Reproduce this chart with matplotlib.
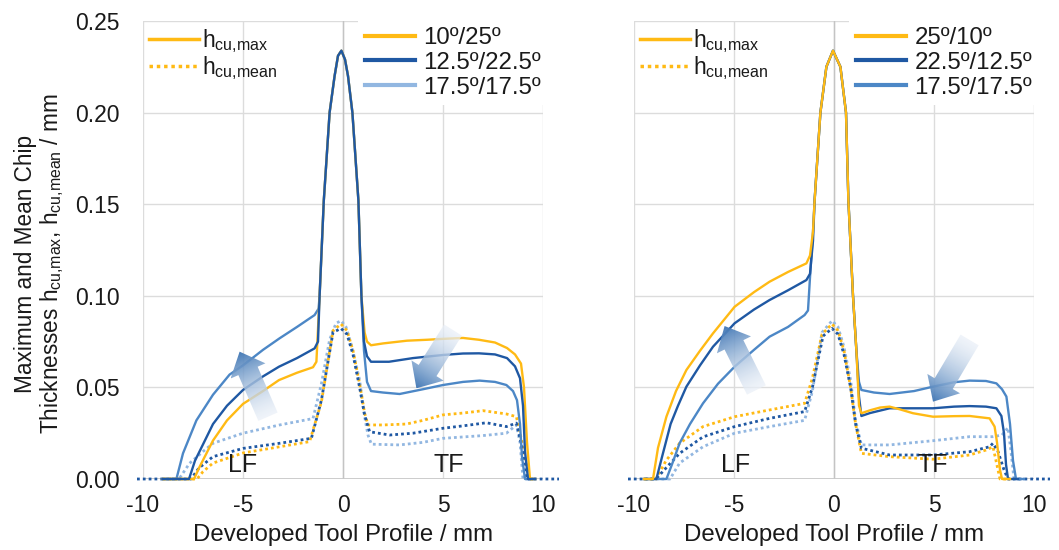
import numpy as np
import matplotlib
matplotlib.use("Agg")
import matplotlib.pyplot as plt
import matplotlib.colors as mcolors
from matplotlib.patches import Polygon
from matplotlib.lines import Line2D

plt.rcParams['font.family'] = ['Liberation Sans', 'DejaVu Sans']
plt.rcParams['mathtext.default'] = 'regular'
plt.rcParams['axes.unicode_minus'] = False

# ---------------- data: left panel (10/25, 12.5/22.5, 17.5/17.5) ----------------
L_yel_max_x = [-9.0, -7.45, -7.2, -6.5, -5.8, -5.0, -4.0, -3.2, -2.3, -1.5, -1.33, -1.17, -0.96, -0.67, -0.42, -0.25, -0.08, 0.10, 0.25, 0.47, 0.77, 0.92, 1.08, 1.2, 1.4, 2.0, 3.2, 4.2, 5.0, 6.0, 6.8, 7.6, 8.2, 8.6, 8.9, 9.05, 9.2, 9.35, 9.6]
L_yel_max_y = [0, 0, 0.006, 0.021, 0.032, 0.041, 0.048, 0.054, 0.058, 0.061, 0.064, 0.100, 0.152, 0.200, 0.220, 0.231, 0.2338, 0.229, 0.220, 0.200, 0.152, 0.100, 0.080, 0.075, 0.073, 0.074, 0.0755, 0.076, 0.0765, 0.077, 0.076, 0.0745, 0.0715, 0.068, 0.063, 0.050, 0.020, 0, 0]
L_dark_max_x = [-9.0, -7.7, -7.4, -6.5, -5.8, -5.0, -4.0, -3.2, -2.3, -1.42, -1.25, -1.17, -0.96, -0.67, -0.42, -0.25, -0.08, 0.10, 0.25, 0.47, 0.77, 0.92, 1.05, 1.2, 1.4, 2.3, 3.5, 5.0, 6.0, 6.8, 7.6, 8.2, 8.6, 8.85, 9.0, 9.1, 9.25, 9.6]
L_dark_max_y = [0, 0, 0.010, 0.030, 0.040, 0.0486, 0.056, 0.0613, 0.066, 0.0713, 0.075, 0.100, 0.152, 0.200, 0.220, 0.231, 0.2338, 0.229, 0.220, 0.200, 0.152, 0.100, 0.075, 0.067, 0.064, 0.064, 0.066, 0.0677, 0.0685, 0.0686, 0.068, 0.066, 0.0615, 0.055, 0.040, 0.015, 0, 0]
L_mid_max_x = [-9.0, -8.33, -8.0, -7.33, -6.5, -5.67, -5.0, -4.0, -3.17, -2.3, -1.42, -1.22, -1.17, -0.96, -0.67, -0.42, -0.25, -0.08, 0.10, 0.25, 0.47, 0.77, 0.92, 1.05, 1.2, 1.4, 2.0, 2.83, 4.0, 5.0, 6.0, 6.83, 7.6, 8.17, 8.5, 8.7, 8.85, 8.95, 9.1, 9.6]
L_mid_max_y = [0, 0, 0.014, 0.032, 0.046, 0.057, 0.062, 0.0705, 0.0768, 0.083, 0.0895, 0.093, 0.100, 0.152, 0.200, 0.220, 0.231, 0.2338, 0.229, 0.220, 0.200, 0.152, 0.100, 0.070, 0.053, 0.048, 0.0472, 0.0464, 0.049, 0.0513, 0.053, 0.0537, 0.053, 0.0513, 0.048, 0.043, 0.030, 0.012, 0, 0]

L_yel_mean_x = [-9.0, -7.3, -7.0, -6.5, -5.0, -3.17, -1.67, -1.08, -0.5, -0.1, 0.2, 0.5, 0.83, 1.08, 1.25, 2.0, 3.17, 4.0, 5.0, 6.0, 7.0, 8.17, 8.67, 8.95, 9.3, 9.6]
L_yel_mean_y = [0, 0, 0.004, 0.0087, 0.0142, 0.0176, 0.0204, 0.042, 0.081, 0.0846, 0.081, 0.070, 0.052, 0.036, 0.0295, 0.0295, 0.030, 0.032, 0.035, 0.036, 0.0373, 0.0355, 0.034, 0.020, 0, 0]
L_dark_mean_x = [-10.3, -7.6, -7.2, -6.5, -5.0, -3.17, -1.58, -1.08, -0.5, -0.1, 0.2, 0.5, 0.83, 1.08, 1.33, 2.33, 3.5, 5.0, 6.0, 7.17, 8.17, 8.67, 8.9, 9.2, 10.8]
L_dark_mean_y = [0, 0, 0.006, 0.0122, 0.0167, 0.0195, 0.0222, 0.043, 0.080, 0.0822, 0.079, 0.068, 0.050, 0.035, 0.0258, 0.024, 0.025, 0.0277, 0.029, 0.0307, 0.0286, 0.0305, 0.020, 0, 0]
L_light_mean_x = [-9.0, -8.2, -7.67, -7.0, -6.5, -5.0, -3.17, -1.5, -1.08, -0.67, -0.35, -0.1, 0.15, 0.45, 0.83, 1.08, 1.25, 1.42, 2.83, 4.0, 5.0, 7.0, 8.17, 8.67, 8.85, 9.0, 9.6]
L_light_mean_y = [0, 0, 0.0086, 0.015, 0.0195, 0.025, 0.0295, 0.033, 0.052, 0.076, 0.085, 0.0864, 0.083, 0.072, 0.054, 0.034, 0.024, 0.019, 0.0186, 0.020, 0.0222, 0.0237, 0.025, 0.0295, 0.020, 0, 0]

# ---------------- data: right panel (25/10, 22.5/12.5, 17.5/17.5) ----------------
R_yel_max_x = [-9.5, -9.05, -8.8, -8.38, -7.9, -7.38, -6.7, -6.05, -4.97, -4.0, -3.22, -2.3, -1.38, -1.2, -1.05, -0.97, -0.68, -0.38, -0.05, 0.32, 0.60, 0.72, 0.95, 1.12, 1.25, 1.37, 1.8, 2.3, 2.78, 3.3, 3.95, 4.95, 6.0, 6.78, 7.78, 8.03, 8.15, 8.3, 8.4, 8.8]
R_yel_max_y = [0, 0, 0.017, 0.034, 0.048, 0.0595, 0.070, 0.0795, 0.094, 0.102, 0.1077, 0.113, 0.1177, 0.122, 0.135, 0.152, 0.200, 0.225, 0.2338, 0.225, 0.200, 0.152, 0.100, 0.070, 0.040, 0.0359, 0.0375, 0.039, 0.0395, 0.038, 0.0359, 0.034, 0.0343, 0.0344, 0.0331, 0.0286, 0.020, 0.005, 0, 0]
R_dark_max_x = [-9.5, -8.88, -8.6, -8.17, -7.8, -7.38, -6.7, -6.05, -4.97, -4.0, -3.22, -2.3, -1.38, -1.2, -1.05, -0.97, -0.68, -0.38, -0.05, 0.32, 0.60, 0.72, 0.95, 1.12, 1.25, 1.37, 1.8, 2.78, 3.9, 4.95, 6.0, 6.78, 7.6, 8.12, 8.37, 8.5, 8.6, 8.7, 9.2]
R_dark_max_y = [0, 0, 0.012, 0.030, 0.040, 0.0504, 0.062, 0.0722, 0.085, 0.0925, 0.0977, 0.103, 0.1086, 0.112, 0.130, 0.152, 0.200, 0.225, 0.2338, 0.225, 0.200, 0.152, 0.100, 0.070, 0.045, 0.0344, 0.036, 0.0386, 0.0386, 0.0386, 0.0395, 0.0398, 0.0395, 0.0386, 0.0344, 0.025, 0.008, 0, 0]
R_mid_max_x = [-9.5, -8.38, -8.1, -7.72, -7.2, -6.55, -5.8, -4.97, -4.0, -3.22, -2.3, -1.47, -1.3, -1.2, -1.05, -0.97, -0.68, -0.38, -0.05, 0.32, 0.60, 0.72, 0.95, 1.12, 1.25, 1.37, 2.0, 2.78, 4.0, 4.95, 6.0, 6.78, 7.6, 8.12, 8.4, 8.62, 8.8, 8.95, 9.1, 9.5]
R_mid_max_y = [0, 0, 0.008, 0.0195, 0.030, 0.0413, 0.052, 0.0613, 0.0705, 0.0777, 0.083, 0.0895, 0.092, 0.110, 0.135, 0.152, 0.200, 0.225, 0.2338, 0.225, 0.200, 0.152, 0.100, 0.070, 0.053, 0.0486, 0.0472, 0.0464, 0.048, 0.0504, 0.0528, 0.0537, 0.0535, 0.0522, 0.049, 0.045, 0.030, 0.010, 0, 0]

R_yel_mean_x = [-9.5, -8.9, -8.4, -7.72, -6.55, -4.97, -3.22, -1.47, -1.08, -0.6, -0.1, 0.2, 0.5, 0.83, 1.08, 1.37, 2.78, 4.95, 6.78, 7.6, 7.95, 8.1, 8.3, 8.8]
R_yel_mean_y = [0, 0, 0.010, 0.0195, 0.0286, 0.034, 0.0377, 0.0413, 0.055, 0.079, 0.0846, 0.081, 0.070, 0.050, 0.030, 0.014, 0.0122, 0.0108, 0.0131, 0.0158, 0.0176, 0.010, 0, 0]
R_dark_mean_x = [-10.3, -8.9, -8.4, -7.72, -6.55, -4.97, -3.22, -1.47, -1.08, -0.55, -0.1, 0.2, 0.5, 0.83, 1.08, 1.37, 2.78, 4.95, 6.78, 7.78, 7.95, 8.2, 8.5, 8.7, 10.8]
R_dark_mean_y = [0, 0, 0.006, 0.014, 0.023, 0.0286, 0.0331, 0.0368, 0.050, 0.078, 0.0822, 0.079, 0.068, 0.050, 0.030, 0.0168, 0.0131, 0.0131, 0.0149, 0.0176, 0.0195, 0.015, 0.005, 0, 0]
R_light_mean_x = [-9.5, -8.2, -7.72, -6.55, -4.97, -3.22, -1.47, -1.08, -0.6, -0.1, 0.2, 0.5, 0.83, 1.08, 1.37, 2.78, 4.95, 6.78, 7.95, 8.4, 8.7, 8.85, 9.0, 9.5]
R_light_mean_y = [0, 0, 0.0087, 0.0176, 0.025, 0.0286, 0.032, 0.048, 0.080, 0.0864, 0.083, 0.072, 0.054, 0.032, 0.0186, 0.0186, 0.0209, 0.0231, 0.0231, 0.024, 0.028, 0.015, 0, 0]

left_labels = ['10º/25º', '12.5º/22.5º', '17.5º/17.5º']
right_labels = ['25º/10º', '22.5º/12.5º', '17.5º/17.5º']
x_ticks = [-10, -5, 0, 5, 10]
y_ticks = [0.00, 0.05, 0.10, 0.15, 0.20, 0.25]

YEL = '#FFBA14'
DARK = '#1F58A3'
MID = '#4C87C6'
LIGHT = '#92B7E1'
TXT = '#1a1a1a'

W, H = 1059, 550
fig = plt.figure(figsize=(W / 100, H / 100), dpi=100)
axL = fig.add_axes([143 / W, 71 / H, 400 / W, 458 / H])
axR = fig.add_axes([634 / W, 71 / H, 400 / W, 458 / H])


def grad_arrow(ax, tail, head, shaft=21, head_w=38, head_l=21):
    T = ax.transData
    p0 = np.array(T.transform(tail))
    p1 = np.array(T.transform(head))
    d = p1 - p0
    L = np.hypot(*d)
    u = d / L
    n = np.array([-u[1], u[0]])
    b = p1 - u * head_l
    pts = [p0 + n * shaft / 2, b + n * shaft / 2, b + n * head_w / 2, p1,
           b - n * head_w / 2, b - n * shaft / 2, p0 - n * shaft / 2]
    pd = T.inverted().transform(np.array(pts))
    poly = Polygon(pd, closed=True, facecolor='none', edgecolor='none', transform=ax.transData)
    ax.add_patch(poly)
    xmin, ymin = pd.min(0)
    xmax, ymax = pd.max(0)
    nx = ny = 150
    gx = np.linspace(xmin, xmax, nx)
    gy = np.linspace(ymin, ymax, ny)
    GX, GY = np.meshgrid(gx, gy)
    disp = T.transform(np.column_stack([GX.ravel(), GY.ravel()]))
    t = (((disp - p0) @ u) / L).reshape(ny, nx).clip(0, 1)
    c0 = np.array(mcolors.to_rgb('#EAF0F8'))
    c1 = np.array(mcolors.to_rgb('#3B73B3'))
    rgba = np.zeros((ny, nx, 4))
    tt = t[..., None] ** 1.4
    rgba[..., :3] = c0 * (1 - tt) + c1 * tt
    rgba[..., 3] = 0.72 + 0.23 * t
    im = ax.imshow(rgba, extent=(xmin, xmax, ymin, ymax), origin='lower',
                   aspect='auto', interpolation='bilinear', zorder=5)
    im.set_clip_path(poly)


def style_axes(ax):
    ax.set_xlim(-10, 10)
    ax.set_ylim(0, 0.25)
    ax.set_xticks(x_ticks)
    ax.set_yticks(y_ticks)
    for s in ax.spines.values():
        s.set_visible(False)
    ax.grid(True, color='#DCDCDC', lw=1.0)
    ax.set_axisbelow(True)
    ax.axvline(0, color='#C4C4C4', lw=1.0, zorder=1)
    ax.axhline(0, color='#C8C8C8', lw=2.0, zorder=1)
    ax.tick_params(length=0, labelsize=16.5, colors=TXT)
    ax.tick_params(axis='x', pad=11)
    ax.tick_params(axis='y', pad=17)
    ax.set_xlabel('Developed Tool Profile / mm', fontsize=17.3, color=TXT, labelpad=5)


LW = 1.7
DOT = (0, (1, 1.1))

# left panel
style_axes(axL)
axL.set_yticklabels([f'{v:.2f}' for v in y_ticks])
axL.plot(L_light_mean_x, L_light_mean_y, color=LIGHT, lw=2, ls=DOT, clip_on=False, zorder=2)
axL.plot(L_yel_mean_x, L_yel_mean_y, color=YEL, lw=2, ls=DOT, clip_on=False, zorder=2)
axL.plot(L_dark_mean_x, L_dark_mean_y, color=DARK, lw=2, ls=DOT, clip_on=False, zorder=2)
axL.plot(L_mid_max_x, L_mid_max_y, color=MID, lw=LW, clip_on=False, zorder=3)
axL.plot(L_yel_max_x, L_yel_max_y, color=YEL, lw=LW, clip_on=False, zorder=3)
axL.plot(L_dark_max_x, L_dark_max_y, color=DARK, lw=LW, clip_on=False, zorder=3)

# right panel
style_axes(axR)
axR.set_yticklabels([])
axR.plot(R_light_mean_x, R_light_mean_y, color=LIGHT, lw=2, ls=DOT, clip_on=False, zorder=2)
axR.plot(R_yel_mean_x, R_yel_mean_y, color=YEL, lw=2, ls=DOT, clip_on=False, zorder=2)
axR.plot(R_dark_mean_x, R_dark_mean_y, color=DARK, lw=2, ls=DOT, clip_on=False, zorder=2)
axR.plot(R_mid_max_x, R_mid_max_y, color=MID, lw=LW, clip_on=False, zorder=3)
axR.plot(R_dark_max_x, R_dark_max_y, color=DARK, lw=LW, clip_on=False, zorder=3)
axR.plot(R_yel_max_x, R_yel_max_y, color=YEL, lw=LW, clip_on=False, zorder=3)

# arrows
grad_arrow(axL, (-3.75, 0.034), (-5.17, 0.0695))
grad_arrow(axL, (5.5, 0.0813), (3.67, 0.0495))
grad_arrow(axR, (-3.88, 0.0486), (-5.47, 0.0835))
grad_arrow(axR, (6.78, 0.0759), (4.95, 0.0422))
for ax in (axL, axR):
    ax.set_xlim(-10, 10)
    ax.set_ylim(0, 0.25)

# LF / TF labels
axL.text(-5.0, 0.0075, 'LF', fontsize=18, ha='center', va='center', color=TXT, zorder=6)
axL.text(5.3, 0.0075, 'TF', fontsize=18, ha='center', va='center', color=TXT, zorder=6)
axR.text(-4.9, 0.0075, 'LF', fontsize=18, ha='center', va='center', color=TXT, zorder=6)
axR.text(4.95, 0.0075, 'TF', fontsize=18, ha='center', va='center', color=TXT, zorder=6)


def add_legends(ax, labels, colors):
    style_h = [Line2D([], [], color=YEL, lw=2.5), Line2D([], [], color=YEL, lw=2.5, ls=DOT)]
    lg1 = ax.legend(style_h, ['$h_{cu{,}max}$', '$h_{cu{,}mean}$'], loc='upper left',
                    bbox_to_anchor=(0.0, 1.0), frameon=False, fontsize=16.5,
                    handlelength=2.2, handletextpad=0.12, labelspacing=0.0,
                    borderaxespad=0.0, borderpad=0.25)
    for t in lg1.get_texts():
        t.set_color(TXT)
    ax.add_artist(lg1)
    ser_h = [Line2D([], [], color=c, lw=3) for c in colors]
    lg2 = ax.legend(ser_h, labels, loc='upper right', bbox_to_anchor=(1.01, 1.0),
                    frameon=True, fontsize=17.3, handlelength=2.1, handletextpad=0.35,
                    labelspacing=0.12, borderaxespad=0.0, borderpad=0.25, fancybox=False)
    lg2.get_frame().set_facecolor('white')
    lg2.get_frame().set_edgecolor('none')
    lg2.get_frame().set_alpha(1.0)
    lg2.set_zorder(10)
    for t in lg2.get_texts():
        t.set_color(TXT)


add_legends(axL, left_labels, [YEL, DARK, LIGHT])
add_legends(axR, right_labels, [YEL, DARK, MID])

fig.text(40 / W, 0.52, 'Maximum and Mean Chip\nThicknesses $h_{cu{,}max}$, $h_{cu{,}mean}$ / mm',
         rotation=90, ha='center', va='center', multialignment='center', fontsize=16.3,
         color=TXT, linespacing=1.1)

fig.savefig('out.png', dpi=100)
